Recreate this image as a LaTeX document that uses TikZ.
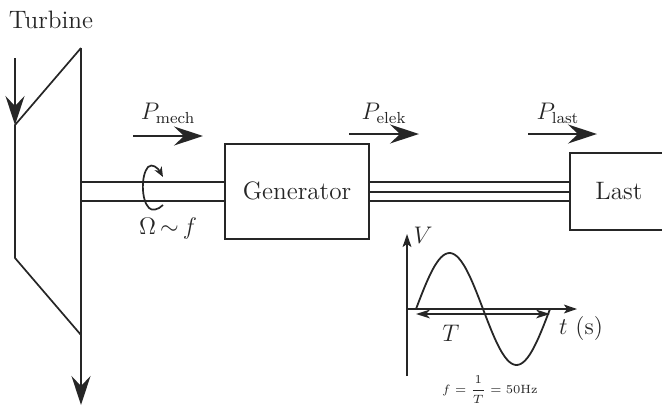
\documentclass[tikz,border=0pt]{standalone}
\usetikzlibrary{arrows.meta}
\tikzset{
  px/.style={x=0.5pt,y=-0.5pt},
  ln/.style={line width=0.85pt,black!85},
  bigarrow/.style={ln,-{Stealth[length=14.5pt,width=9.5pt,inset=5pt]}},
  medarrow/.style={ln,-{Stealth[length=6.5pt,width=4.4pt,inset=1.5pt]}},
  smallarrow/.style={ln,{Stealth[length=7pt,width=4.4pt,inset=2pt]}-{Stealth[length=7pt,width=4.4pt,inset=2pt]}},
  lab/.style={inner sep=0pt,font=\fontsize{12}{14}\selectfont,text=black!85},
  biglab/.style={inner sep=0pt,font=\fontsize{12.6}{15}\selectfont,text=black!85},
  tiny lab/.style={inner sep=0pt,font=\fontsize{6.2}{8}\selectfont,text=black!85}
}
\begin{document}
\begin{tikzpicture}[px]
\useasboundingbox (0,0) rectangle (662,407);
% labels
\node[biglab] (turb) at (51,20) {Turbine};
\node[lab] (pmech) at (168,113) {$P_{\mathrm{mech}}$};
\node[lab] (pelek) at (384,113) {$P_{\mathrm{elek}}$};
\node[lab] (plast) at (558,113) {$P_{\mathrm{last}}$};
\node[lab] (omega) at (168,228) {$\Omega\,{\sim}\,f$};
% coordinates
\coordinate (tl) at (15,125);
\coordinate (tr) at (81,48);
\coordinate (bl) at (15,258);
\coordinate (br) at (81,335);
\coordinate (in) at (15,58);
\coordinate (out) at (81,405);
\coordinate (ms) at (133,136); \coordinate (me) at (203,136);
\coordinate (es) at (349,134); \coordinate (ee) at (419,134);
\coordinate (ls) at (528,134); \coordinate (le) at (597,134);
% boxes
\draw[ln] (225,144) rectangle (369,239);
\node[biglab] (gen) at (297,191) {Generator};
\draw[ln] (662,153) -- (570,153) -- (570,230) -- (662,230);
\node[biglab] (last) at (619,191) {Last};
% turbine
\draw[ln,line join=miter] (tr) -- (tl) -- (bl) -- (br);
\draw[ln] (tr) -- (br);
\draw[bigarrow] (in) -- (tl);
\draw[bigarrow] (br) -- (out);
% shaft
\draw[ln] (81,182) -- (225,182);
\draw[ln] (81,201) -- (225,201);
\draw[ln] (81,182) -- (81,201);
\draw[ln,-{Stealth[length=5pt,width=4pt,inset=1.5pt]}] (163,205) .. controls (158,210) and (152,211) .. (149,208) .. controls (141,200) and (141,175) .. (148,167) .. controls (152,163) and (158,168) .. (163,177);
% power arrows
\draw[bigarrow] (ms) -- (me);
\draw[bigarrow] (es) -- (ee);
\draw[bigarrow] (ls) -- (le);
% lines
\draw[ln] (369,182) -- (570,182);
\draw[ln] (369,192) -- (570,192);
\draw[ln] (369,201) -- (570,201);
% graph
\coordinate (vb) at (407,376); \coordinate (vt) at (407,234);
\coordinate (hl) at (407,309); \coordinate (hr) at (577,309);
\draw[medarrow] (vb) -- (vt);
\draw[medarrow] (hl) -- (hr);
\node[lab] (V) at (423,235) {$V$};
\node[lab] (t) at (581,329) {$t$ (s)};
\node[lab] (T) at (451,333) {$T$};
\draw[ln,line width=0.9pt] plot[domain=0:360,samples=60,smooth] ({416+0.37222*\x},{309-56*sin(\x)});
\coordinate (ta) at (416,314); \coordinate (tb) at (550,314);
\draw[smallarrow] (ta) -- (tb);
\node[tiny lab] (feq) at (490,390) {$\displaystyle f=\frac{1}{T}=50\mathrm{Hz}$};
\end{tikzpicture}
\end{document}
